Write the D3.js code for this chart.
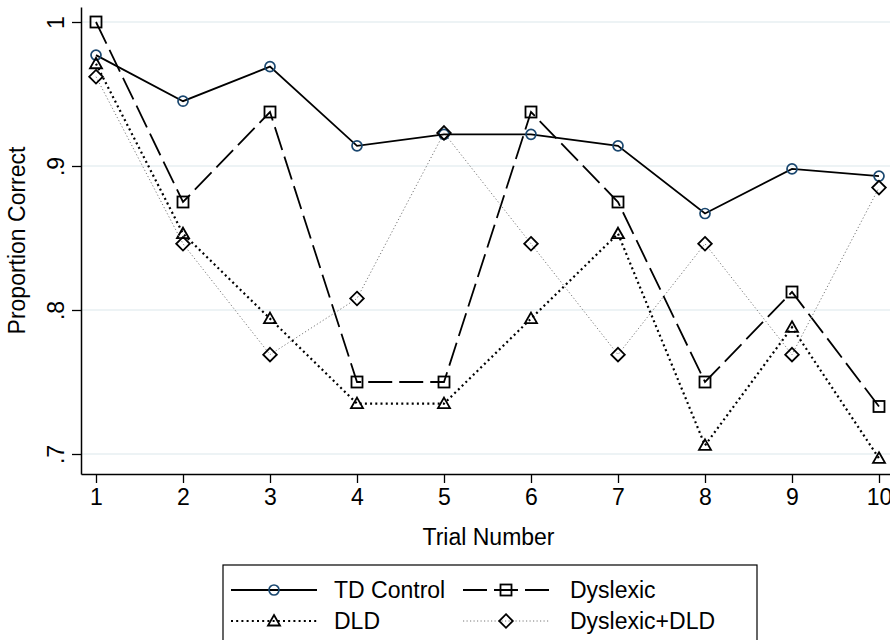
<!DOCTYPE html>
<html><head><meta charset="utf-8">
<script src="https://cdn.jsdelivr.net/npm/d3@7"></script>
<style>
html,body{margin:0;padding:0;background:#fff;}
svg text{font-family:"Liberation Sans",Arial,Helvetica,sans-serif;fill:#000;}
</style></head>
<body><svg id="c" width="890" height="640"></svg>
<script>
const trials = [1,2,3,4,5,6,7,8,9,10];
const tdControl = [0.977,0.945,0.969,0.914,0.922,0.922,0.914,0.867,0.898,0.893];
const dyslexic = [1.0,0.875,0.9375,0.75,0.75,0.9375,0.875,0.75,0.8125,0.733];
const dld = [0.971,0.853,0.794,0.735,0.735,0.794,0.853,0.706,0.788,0.697];
const dysDld = [0.962,0.846,0.769,0.808,0.923,0.846,0.769,0.846,0.769,0.885];
const yTicks = [0.7,0.8,0.9,1.0];
const yTickLabels = [".7",".8",".9","1"];
const seriesNames = ["TD Control","Dyslexic","DLD","Dyslexic+DLD"];

(function(){
const svg = d3.select("#c");
const FS = 23;
const pL = 81, pR = 890, pT = 7, pB = 474;
const x = d3.scaleLinear().domain([1 - 15/87, 10 + 11/87]).range([pL, pR]);
const y = d3.scaleLinear().domain([0.7 - 20/1440, 1 + 15/1440]).range([pB, pT]);

// gridlines
svg.append("g").selectAll("line").data(yTicks).join("line")
  .attr("x1", pL).attr("x2", pR)
  .attr("y1", d => y(d)).attr("y2", d => y(d))
  .attr("stroke", "#e7eff2").attr("stroke-width", 1.6);

// axes
const xAxis = d3.axisBottom(x).tickValues(trials).tickFormat(d3.format("d")).tickSize(9).tickSizeOuter(0).tickPadding(6);
const gx = svg.append("g").attr("transform", `translate(0,${pB})`).call(xAxis);
gx.select(".domain").attr("stroke", "#000").attr("stroke-width", 1.5);
gx.selectAll(".tick line").attr("stroke", "#000").attr("stroke-width", 1.3);
gx.selectAll(".tick text").attr("font-size", FS).attr("font-family", "Liberation Sans, Arial, sans-serif");

const yAxis = d3.axisLeft(y).tickValues(yTicks).tickFormat((d,i) => yTickLabels[i]).tickSize(9).tickSizeOuter(0);
const gy = svg.append("g").attr("transform", `translate(${pL},0)`).call(yAxis);
gy.select(".domain").attr("stroke", "#000").attr("stroke-width", 1.5);
gy.selectAll(".tick line").attr("stroke", "#000").attr("stroke-width", 1.3);
gy.selectAll(".tick text")
  .attr("font-size", FS).attr("font-family", "Liberation Sans, Arial, sans-serif")
  .attr("x", null).attr("dy", null)
  .attr("text-anchor", "middle")
  .attr("transform", "translate(-17,0) rotate(-90)");

// axis titles
svg.append("text").attr("x", (pL + pR)/2 + 3).attr("y", 545)
  .attr("text-anchor", "middle").attr("font-size", FS).text("Trial Number");
svg.append("text").attr("transform", `translate(25,${(pT+pB)/2}) rotate(-90)`)
  .attr("text-anchor", "middle").attr("font-size", FS).text("Proportion Correct");

// series styles
const styles = [
  {vals: tdControl, stroke: "#000", width: 1.8, dash: null, marker: "circle"},
  {vals: dyslexic, stroke: "#000", width: 1.8, dash: "24,7", marker: "square"},
  {vals: dld, stroke: "#000", width: 2.2, dash: "2,3.2", marker: "triangle"},
  {vals: dysDld, stroke: "#777", width: 1, dash: "1.2,2.3", marker: "diamond"}
];

function drawMarker(g, type, cx, cy) {
  if (type === "circle") {
    g.append("circle").attr("cx", cx).attr("cy", cy).attr("r", 5)
      .attr("fill", "none").attr("stroke", "#1a476f").attr("stroke-width", 1.7);
  } else if (type === "square") {
    g.append("rect").attr("x", cx - 5.5).attr("y", cy - 5.5).attr("width", 11).attr("height", 11)
      .attr("fill", "none").attr("stroke", "#000").attr("stroke-width", 1.8);
  } else if (type === "triangle") {
    const h = 10, w = 12;
    g.append("path").attr("d", `M${cx},${cy - h*0.6} L${cx + w/2},${cy + h*0.45} L${cx - w/2},${cy + h*0.45} Z`)
      .attr("fill", "none").attr("stroke", "#000").attr("stroke-width", 1.8).attr("stroke-linejoin", "miter");
  } else if (type === "diamond") {
    const r = 6.8;
    g.append("path").attr("d", `M${cx},${cy - r} L${cx + r},${cy} L${cx},${cy + r} L${cx - r},${cy} Z`)
      .attr("fill", "none").attr("stroke", "#000").attr("stroke-width", 1.8);
  }
}

const line = d3.line().x((d,i) => x(trials[i])).y(d => y(d));
styles.forEach(s => {
  const g = svg.append("g");
  g.append("path").datum(s.vals).attr("d", line)
    .attr("fill", "none").attr("stroke", s.stroke).attr("stroke-width", s.width)
    .attr("stroke-dasharray", s.dash);
  s.vals.forEach((v,i) => drawMarker(g, s.marker, x(trials[i]), y(v)));
});

// legend
const lg = svg.append("g");
lg.append("rect").attr("x", 223).attr("y", 565).attr("width", 534).attr("height", 90)
  .attr("fill", "#fff").attr("stroke", "#000").attr("stroke-width", 1.2);
const legendPos = [
  {lx1: 231, lx2: 317, tx: 334, ty: 590},
  {lx1: 463, lx2: 549, tx: 570, ty: 590},
  {lx1: 231, lx2: 317, tx: 334, ty: 621},
  {lx1: 463, lx2: 549, tx: 570, ty: 621}
];
styles.forEach((s, i) => {
  const p = legendPos[i];
  lg.append("line").attr("x1", p.lx1).attr("x2", p.lx2).attr("y1", p.ty).attr("y2", p.ty)
    .attr("stroke", s.stroke).attr("stroke-width", s.width).attr("stroke-dasharray", s.dash);
  drawMarker(lg, s.marker, (p.lx1 + p.lx2)/2, p.ty);
  lg.append("text").attr("x", p.tx).attr("y", p.ty).attr("dy", "0.36em")
    .attr("font-size", FS).text(seriesNames[i]);
});
})();
</script></body></html>
